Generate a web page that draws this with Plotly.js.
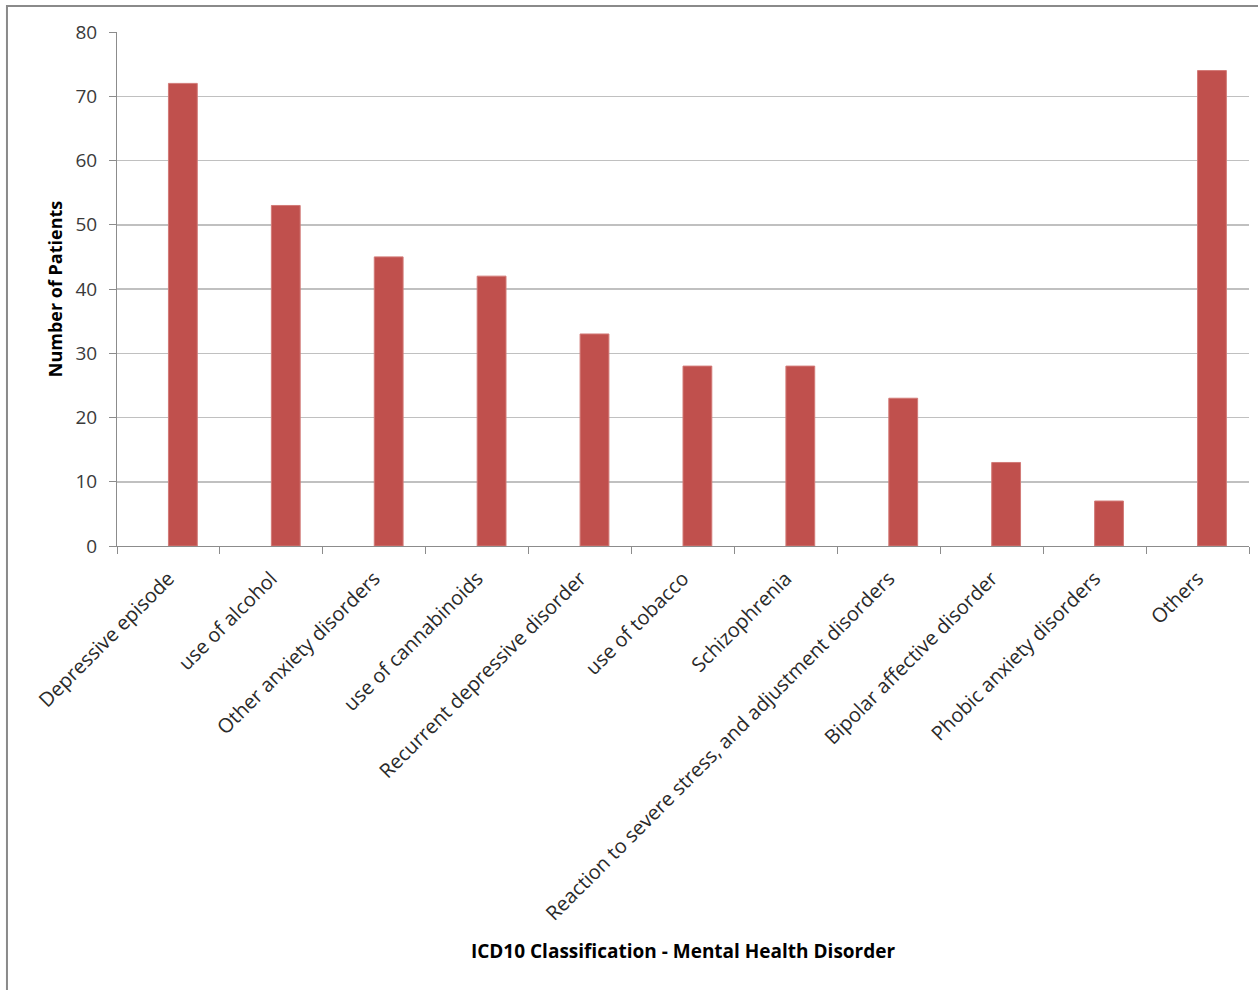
<!DOCTYPE html>
<html>
<head>
<meta charset="utf-8">
<script src="https://cdn.plot.ly/plotly-3.0.1.min.js"></script>
<style>
html,body{margin:0;padding:0;background:#fff;}
#chart{width:1258px;height:990px;}
</style>
</head>
<body>
<div id="chart"></div>
<script>
const categories = [
  "Depressive episode",
  "use of alcohol",
  "Other anxiety disorders",
  "use of cannabinoids",
  "Recurrent depressive disorder",
  "use of tobacco",
  "Schizophrenia",
  "Reaction to severe stress, and adjustment disorders",
  "Bipolar affective disorder",
  "Phobic anxiety disorders",
  "Others"
];
const patients = [72, 53, 45, 42, 33, 28, 28, 23, 13, 7, 74];
const yTicks = [0, 10, 20, 30, 40, 50, 60, 70, 80];

const fontFam = "Open Sans, Liberation Sans, sans-serif";

const trace = {
  type: "bar",
  x: categories,
  y: patients,
  width: 0.28,
  offset: 0,
  marker: {color: "#C0504D", line: {color: "#D27A77", width: 1}},
  hoverinfo: "x+y"
};

const layout = {
  width: 1258,
  height: 990,
  margin: {l: 117, r: 9, t: 32, b: 444, autoexpand: false},
  paper_bgcolor: "#ffffff",
  plot_bgcolor: "#ffffff",
  showlegend: false,
  font: {family: fontFam, color: "#404040"},
  xaxis: {
    type: "category",
    tickangle: -45,
    tickfont: {size: 20, color: "#2a2a2a", family: fontFam},
    ticklabelstandoff: 12,
    showline: true,
    linecolor: "#8c8c8c",
    linewidth: 1,
    ticks: "outside",
    ticklen: 7,
    tickcolor: "#8c8c8c",
    tickson: "boundaries",
    showgrid: false,
    automargin: false,
    title: {
      text: "<b>ICD10 Classification - Mental Health Disorder</b>",
      font: {size: 19, color: "#000", family: fontFam},
      standoff: 19
    }
  },
  yaxis: {
    range: [0, 80],
    tickvals: yTicks,
    ticktext: yTicks.map(String),
    tickfont: {size: 19, color: "#3a3a3a", family: fontFam},
    ticklabelstandoff: 8,
    showline: true,
    linecolor: "#8c8c8c",
    linewidth: 1,
    ticks: "outside",
    ticklen: 7,
    tickcolor: "#8c8c8c",
    showgrid: true,
    gridcolor: "#c0c0c0",
    gridwidth: 1.5,
    zeroline: false,
    automargin: false,
    title: {
      text: "<b>Number of Patients</b>",
      font: {size: 18, color: "#000", family: fontFam},
      standoff: 8
    }
  },
  shapes: [{
    type: "rect",
    xref: "paper", yref: "paper",
    x0: -0.0972, x1: 1.2, y0: -1.2, y1: 1.0506,
    line: {color: "#8a8a8a", width: 2},
    fillcolor: "rgba(0,0,0,0)",
    layer: "below"
  }]
};

Plotly.newPlot("chart", [trace], layout, {displayModeBar: false, staticPlot: true});
</script>
</body>
</html>
